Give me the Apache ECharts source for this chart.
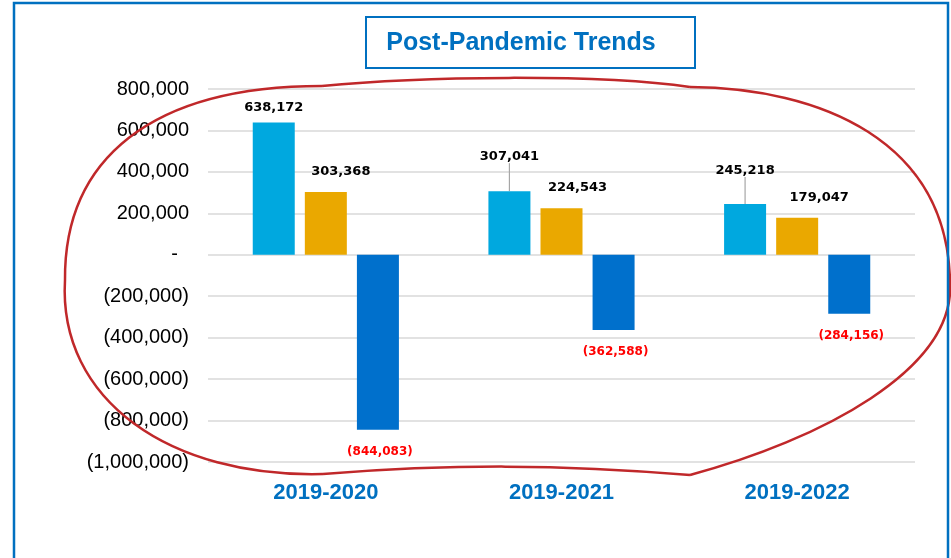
<!DOCTYPE html>
<html>
<head>
<meta charset="utf-8">
<script src="https://cdn.jsdelivr.net/npm/echarts@6/dist/echarts.min.js"></script>
<style>
  html, body { margin: 0; padding: 0; background: #fff; }
  #main { width: 951px; height: 558px; }
</style>
</head>
<body>
<div id="main"></div>
<script>
// categories and values
var periods = ['2019-2020', '2019-2021', '2019-2022'];
var seriesA = [638172, 307041, 245218];
var seriesB = [303368, 224543, 179047];
var seriesC = [-844083, -362588, -284156];

// label nudges (pixels), kept apart from the data
var offsetsB = [[15, 0], [16, 0], [22, 0]];
var liftA = [0, -20, -19];

function fmtAxis(v) {
  if (v === 0) return '-  ';
  var s = Math.abs(v).toLocaleString('en-US');
  return v < 0 ? '(' + s + ')' : s;
}
function fmtNum(v) {
  var s = Math.abs(v).toLocaleString('en-US');
  return v < 0 ? '(' + s + ')' : s;
}

// hand-drawn red circle, as bezier pieces [x1,y1,cx1,cy1,cx2,cy2,x2,y2]
var loopPieces = [
  [322, 86, 420, 76, 600, 74, 690, 87],
  [690, 87, 820, 88, 948, 140, 950, 283],
  [950, 283, 955, 370, 820, 440, 690, 475],
  [690, 475, 560, 464, 450, 464, 323, 474],
  [323, 474, 170, 478, 58, 400, 65, 280],
  [65, 280, 64, 160, 150, 86, 322, 86]
];

var myChart = echarts.init(document.getElementById('main'));

var graphics = [
  // outer frame
  {
    type: 'rect', silent: true, z: 100,
    shape: { x: 14, y: 3, width: 934, height: 570 },
    style: { fill: 'none', stroke: '#0070C0', lineWidth: 2.5 }
  },
  // title box
  {
    type: 'rect', silent: true, z: 100,
    shape: { x: 366, y: 17, width: 329, height: 51 },
    style: { fill: '#fff', stroke: '#0070C0', lineWidth: 2 }
  },
  {
    type: 'text', silent: true, z: 101,
    x: 521, y: 43,
    style: {
      text: 'Post-Pandemic Trends', fill: '#0070C0',
      font: 'bold 25px "Liberation Sans", Arial, sans-serif',
      align: 'center', verticalAlign: 'middle'
    }
  }
];
loopPieces.forEach(function (p) {
  graphics.push({
    type: 'bezierCurve', silent: true, z: 90,
    shape: { x1: p[0], y1: p[1], cpx1: p[2], cpy1: p[3], cpx2: p[4], cpy2: p[5], x2: p[6], y2: p[7] },
    style: { fill: 'none', stroke: '#C0282A', lineWidth: 2.5 }
  });
});

var option = {
  animation: false,
  backgroundColor: '#fff',
  grid: { left: 208, right: 36, top: 89, bottom: 96 },
  xAxis: {
    type: 'category',
    data: periods,
    axisLine: { show: false },
    axisTick: { show: false },
    axisLabel: {
      color: '#0070C0', fontWeight: 'bold', fontSize: 22,
      fontFamily: 'Liberation Sans, Arial, sans-serif',
      margin: 20
    }
  },
  yAxis: {
    type: 'value',
    min: -1000000, max: 800000, interval: 200000,
    axisLine: { show: false },
    axisTick: { show: false },
    splitLine: { lineStyle: { color: '#D9D9D9', width: 1.5 } },
    axisLabel: {
      color: '#000', fontSize: 20, margin: 19,
      fontFamily: 'Liberation Sans, Arial, sans-serif',
      formatter: fmtAxis
    }
  },
  series: [
    {
      type: 'bar', barWidth: 42, barGap: '24%',
      itemStyle: { color: '#00A8DF' },
      data: seriesA.map(function (v, i) {
        return { value: v, labelLine: { show: liftA[i] !== 0 } };
      }),
      label: {
        show: true, position: 'top', distance: 8,
        color: '#000', fontWeight: 'bold', fontSize: 13,
        fontFamily: 'DejaVu Sans, sans-serif',
        formatter: function (p) { return fmtNum(p.value); }
      },
      labelLayout: function (p) { return { dy: liftA[p.dataIndex] }; },
      labelLine: { show: true, lineStyle: { color: '#A6A6A6', width: 1.2 } }
    },
    {
      type: 'bar', barWidth: 42, barGap: '24%',
      itemStyle: { color: '#EAA800' },
      data: seriesB.map(function (v, i) {
        return { value: v, label: { offset: offsetsB[i] } };
      }),
      label: {
        show: true, position: 'top', distance: 14,
        color: '#000', fontWeight: 'bold', fontSize: 13,
        fontFamily: 'DejaVu Sans, sans-serif',
        formatter: function (p) { return fmtNum(p.value); }
      }
    },
    {
      type: 'bar', barWidth: 42, barGap: '24%',
      itemStyle: { color: '#0070CC' },
      data: seriesC,
      label: {
        show: true, position: 'bottom', distance: 16, offset: [2, 0],
        color: '#FF0000', fontWeight: 'bold', fontSize: 12,
        fontFamily: 'DejaVu Sans, sans-serif',
        formatter: function (p) { return fmtNum(p.value); }
      }
    }
  ],
  graphic: graphics
};

if (option && typeof option === "object") {
  myChart.setOption(option, true);
}
</script>
</body>
</html>
